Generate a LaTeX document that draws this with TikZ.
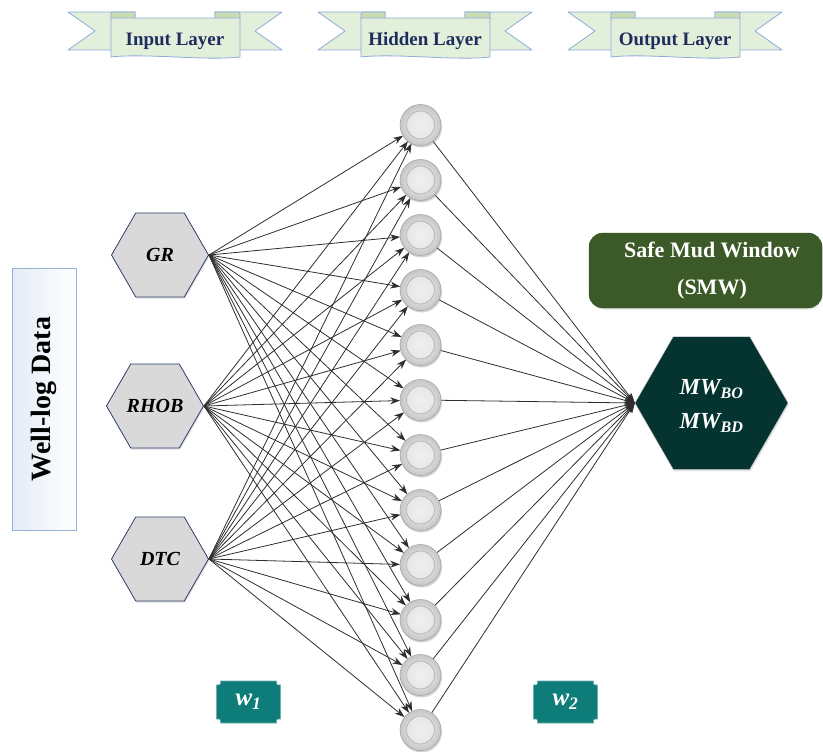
\documentclass[tikz,border=0pt]{standalone}
\usepackage{fontspec}
\setmainfont{Liberation Serif}
\usetikzlibrary{shapes.geometric,arrows.meta,shadows}

\definecolor{ribbongreen}{HTML}{E2EFDA}
\definecolor{ribbonfold}{HTML}{C9DDB5}
\definecolor{ribbonline}{HTML}{8FAADC}
\definecolor{ribbontext}{HTML}{1F2D5E}
\definecolor{hexgray}{HTML}{D9D9D9}
\definecolor{hexline}{HTML}{2C3E6B}
\definecolor{smwgreen}{HTML}{3C5A27}
\definecolor{outteal}{HTML}{05332F}
\definecolor{wteal}{HTML}{0E7C78}
\definecolor{wellline}{HTML}{95B3D7}
\definecolor{wellblue}{HTML}{DDE6F3}
\definecolor{wirecol}{HTML}{2E2E2E}

\tikzset{
  ribbon/.style={fill=ribbongreen, draw=ribbonline, line width=0.8pt, line join=round},
  ribbonfoldpart/.style={fill=ribbonfold, draw=ribbonline, line width=0.8pt},
  ribbonlabel/.style={text=ribbontext, font=\bfseries\fontsize{19}{22}\selectfont},
  inhex/.style={regular polygon, regular polygon sides=6, minimum size=97pt, inner sep=0pt,
    draw=hexline, line width=0.8pt, fill=hexgray,
    drop shadow={opacity=0.25, shadow xshift=1pt, shadow yshift=-1.5pt},
    font=\bfseries\itshape\fontsize{20}{24}\selectfont},
  outhex/.style={regular polygon, regular polygon sides=6, minimum size=153pt, inner sep=0pt,
    draw=gray!60, fill=outteal,
    drop shadow={opacity=0.2, shadow xshift=1pt, shadow yshift=-2pt}},
  outlabel/.style={text=white, align=center, font=\bfseries\itshape\fontsize{23}{34}\selectfont},
  neuron/.style={circle, minimum size=41pt, inner sep=0pt, draw=gray!70, line width=0.6pt,
    inner color=white, outer color=gray!45,
    drop shadow={opacity=0.35, shadow xshift=1pt, shadow yshift=-2pt},
    path picture={
      \shade[inner color=gray!12, outer color=gray!22] (path picture bounding box.center) circle (14pt);
      \draw[gray!55, line width=0.9pt] (path picture bounding box.center) circle (14pt);}},
  wire/.style={draw=wirecol, line width=0.8pt, -{Stealth[length=10pt,width=7pt]}},
  smwbox/.style={rectangle, rounded corners=14pt, minimum width=233pt, minimum height=75pt,
    fill=smwgreen, draw=smwgreen!80!black,
    drop shadow={opacity=0.2, shadow xshift=1pt, shadow yshift=-1.5pt}},
  smwlabel/.style={text=white, align=center, font=\bfseries\fontsize{22}{37}\selectfont},
  wellbox/.style={rectangle, rotate=90, minimum width=262pt, minimum height=64pt,
    draw=wellline, line width=0.8pt, left color=wellblue!80, right color=white,
    font=\bfseries\fontsize{28}{32}\selectfont},
  weightbox/.style={fill=wteal, draw=wteal!60!white, line width=0.6pt},
  weightlabel/.style={text=white, font=\bfseries\itshape\fontsize{25}{28}\selectfont}
}

\begin{document}
\begin{tikzpicture}[x=1pt,y=-1pt]
    \useasboundingbox (0,0) rectangle (823,752);

    % layer ribbons
    \foreach \cx/\lbl/\nm in {175/Input Layer/ribin, 425/Hidden Layer/ribhid, 675/Output Layer/ribout}{
        \filldraw[ribbon] ({\cx-107},12) -- ({\cx-40},12) -- ({\cx-40},50) -- ({\cx-107},50) -- ({\cx-80},31) -- cycle;
        \filldraw[ribbon] ({\cx+107},12) -- ({\cx+40},12) -- ({\cx+40},50) -- ({\cx+107},50) -- ({\cx+80},31) -- cycle;
        \filldraw[ribbonfoldpart] ({\cx-64},19) -- ({\cx-64},16) .. controls ({\cx-64},12) .. ({\cx-58},12) -- ({\cx-40},12) -- ({\cx-40},19) -- cycle;
        \filldraw[ribbonfoldpart] ({\cx+65},19) -- ({\cx+65},16) .. controls ({\cx+65},12) .. ({\cx+59},12) -- ({\cx+40},12) -- ({\cx+40},19) -- cycle;
        \filldraw[ribbon] ({\cx-64},18) -- ({\cx+65},18) -- ({\cx+65},57) .. controls ({\cx+30},61) and ({\cx-30},53) .. ({\cx-64},57) -- cycle;
        \node[ribbonlabel] (\nm) at (\cx,41) {\lbl};
    }

    % input side
    \node[wellbox] (welllog) at (44,399) {Well-log Data};
    \node[inhex] (gr) at (160,255) {GR};
    \node[inhex] (rhob) at (155,406) {RHOB};
    \node[inhex] (dtc) at (160,559) {DTC};

    % output side
    \node[smwbox] (smw) at (705.5,270.5) {};
    \node[smwlabel] (smwtext) at (712,271) {Safe Mud Window\\(SMW)};
    \node[outhex] (mw) at (711.5,403) {};
    \node[outlabel] (mwtext) at (711.5,406) {MW\textsubscript{BO}\\MW\textsubscript{BD}};

    % hidden neurons
    \foreach \i in {0,...,11}
        \coordinate (p\i) at (420.5,{125+55*\i});

    % wires
    \foreach \i in {0,...,11}{
        \foreach \src in {gr,rhob,dtc}
            \draw[wire, shorten >=20.5pt] (\src.east) -- (p\i);
        \draw[wire, shorten <=20.5pt] (p\i) -- (mw.west);
    }
    \foreach \i in {0,...,11}
        \node[neuron] (h\i) at (p\i) {};

    % weights
    \foreach \wx/\wl/\wn in {248.5/1/wone, 565.5/2/wtwo}{
        \filldraw[weightbox] ({\wx-28},681) -- ({\wx+28},681) .. controls ({\wx+28},685) .. ({\wx+32},685)
            -- ({\wx+32},719) .. controls ({\wx+28},719) .. ({\wx+28},723)
            -- ({\wx-28},723) .. controls ({\wx-28},719) .. ({\wx-32},719)
            -- ({\wx-32},685) .. controls ({\wx-28},685) .. ({\wx-28},681) -- cycle;
        \node[weightlabel] (\wn) at (\wx,702) {w\textsubscript{\wl}};
    }
\end{tikzpicture}
\end{document}
